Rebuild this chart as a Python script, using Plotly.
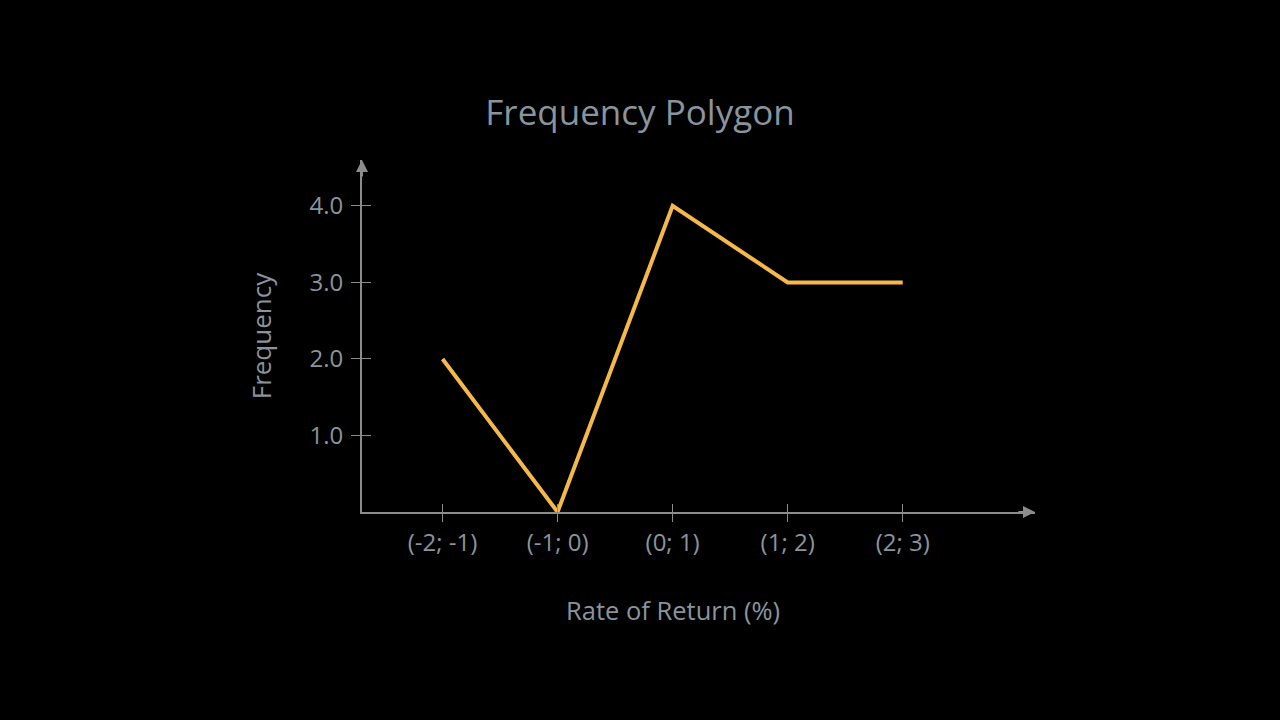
import plotly.graph_objects as go

categories = ["(-2; -1)", "(-1; 0)", "(0; 1)", "(1; 2)", "(2; 3)"]
frequency = [2, 0, 4, 3, 3]
y_tickvals = [1, 2, 3, 4]
y_ticktext = ["1.0", "2.0", "3.0", "4.0"]

AXIS = "#8c8c8c"
TXT = "#8a949c"
FONT = "Open Sans, Lato, sans-serif"

fig = go.Figure()
fig.add_trace(go.Scatter(
    x=categories, y=frequency, mode="lines",
    line=dict(color="#f5b94a", width=4), cliponaxis=False, showlegend=False,
))
# overlay trace on mirrored axes for crossing tick marks
fig.add_trace(go.Scatter(x=categories, y=frequency, mode="lines", xaxis="x2", yaxis="y2",
                         line=dict(width=0), hoverinfo="skip", showlegend=False))

fig.update_layout(
    width=1280, height=720,
    paper_bgcolor="black", plot_bgcolor="black",
    margin=dict(l=362, r=245, t=160, b=208),
    title=dict(text="Frequency Polygon", x=0.5, xanchor="center", y=0.843, yanchor="middle",
               font=dict(family=FONT, size=35, color=TXT)),
    xaxis=dict(type="category", categoryorder="array", categoryarray=categories,
               range=[-0.7, 5.15], showgrid=False, zeroline=False,
               showline=True, linecolor=AXIS, linewidth=2,
               ticks="outside", ticklen=8, tickcolor=AXIS, tickwidth=1,
               tickfont=dict(family=FONT, size=24, color=TXT)),
    yaxis=dict(range=[0, 4.6], showgrid=False, zeroline=False,
               showline=True, linecolor=AXIS, linewidth=2,
               tickvals=y_tickvals, ticktext=y_ticktext,
               ticks="outside", ticklen=9, tickcolor=AXIS, tickwidth=1, ticklabelstandoff=3,
               tickfont=dict(family=FONT, size=24, color=TXT),
               title=dict(text="Frequency", font=dict(family=FONT, size=26, color=TXT), standoff=30)),
    xaxis2=dict(type="category", categoryorder="array", categoryarray=categories,
                overlaying="x", matches="x", showgrid=False, zeroline=False, showline=False,
                ticks="inside", ticklen=8, tickcolor=AXIS, tickwidth=1, showticklabels=False, side="bottom"),
    yaxis2=dict(overlaying="y", matches="y", showgrid=False, zeroline=False, showline=False,
                tickvals=y_tickvals, ticks="inside", ticklen=9, tickcolor=AXIS, tickwidth=1,
                showticklabels=False, side="left"),
)

# x-axis title, centred under the middle category as in the reference
fig.add_annotation(xref="x", yref="paper", x=categories[2], y=0, yshift=-98, yanchor="middle",
                   text="Rate of Return (%)", showarrow=False,
                   font=dict(family=FONT, size=25.5, color=TXT))

fig.add_annotation(xref="paper", yref="paper", x=1.0, y=0, ax=-18, ay=0, text="",
                   showarrow=True, arrowhead=2, arrowsize=1.2, arrowwidth=2, arrowcolor=AXIS)
fig.add_annotation(xref="paper", yref="paper", x=0, y=1.0, ax=0, ay=18, text="",
                   showarrow=True, arrowhead=2, arrowsize=1.2, arrowwidth=2, arrowcolor=AXIS)

fig.write_html("out.html")
